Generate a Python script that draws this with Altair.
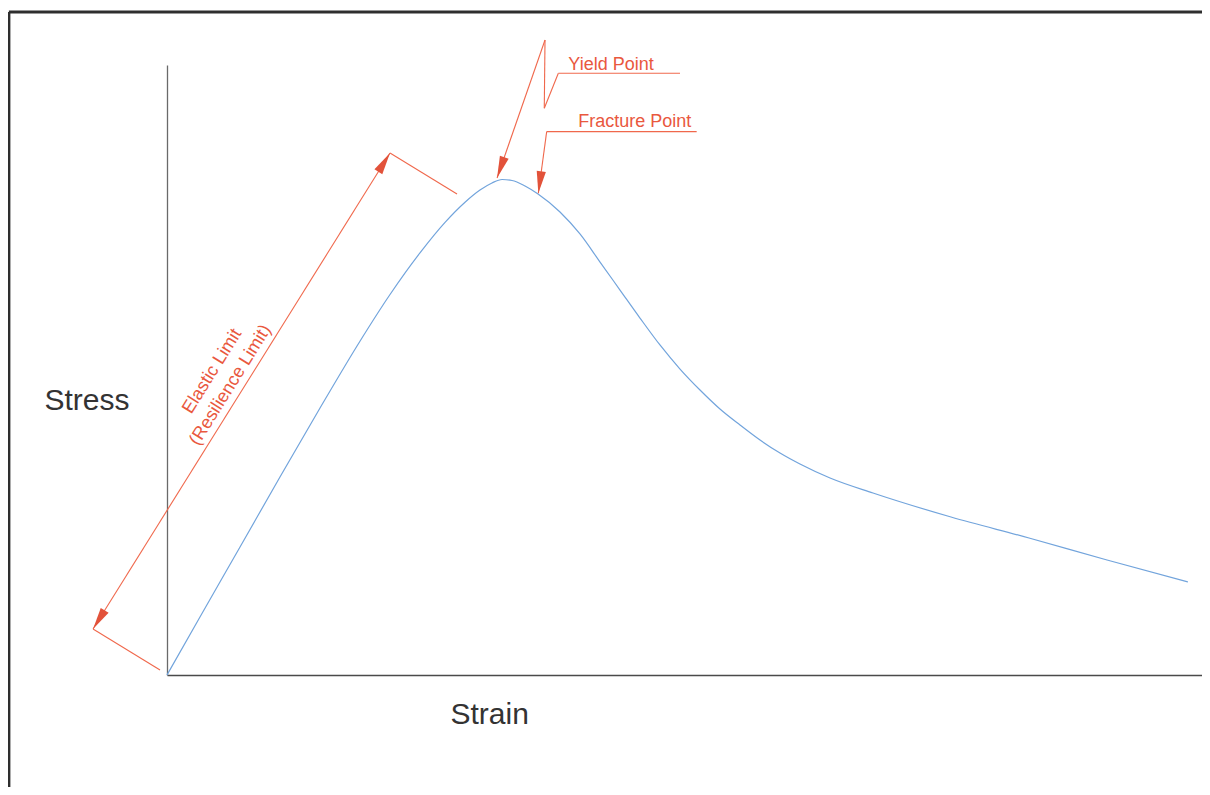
import math
import altair as alt
import pandas as pd

# ---- data (strain / stress in arbitrary diagram units) ----
strain = [0, 3.17, 7.02, 10.86, 14.71, 18.55, 21.44, 24.32, 26.73, 28.65, 30.09,
          31.24, 32.21, 33.17, 34.42, 35.67, 37.78, 39.70, 41.63, 43.55, 45.47,
          47.39, 49.32, 51.24, 53.16, 55.09, 57.01, 58.93, 60.85, 63.74, 67.87,
          75.37, 82.87, 90.37, 98.15]
stress = [0, 9.51, 20.98, 32.46, 43.77, 54.72, 62.38, 69.20, 74.20, 77.50, 79.50,
          80.66, 81.23, 81.07, 80.16, 78.85, 75.90, 72.30, 67.70, 63.11, 58.52,
          54.10, 50.16, 46.72, 43.61, 40.98, 38.52, 36.39, 34.59, 32.30, 29.84,
          25.90, 22.46, 18.85, 15.25]

# annotation segments (start -> end), diagram units
seg_x1 = [-7.11, 21.44, -7.11, 36.34, 36.34, 36.27, 37.62, 36.50, 36.50]
seg_y1 = [7.54, 85.57, 7.54, 104.10, 104.10, 92.90, 98.64, 89.07, 89.07]
seg_x2 = [21.44, 27.88, -0.67, 31.73, 36.27, 37.62, 49.32, 50.92, 35.70]
seg_y2 = [85.57, 78.85, 0.82, 81.48, 92.90, 98.64, 98.64, 89.07, 78.97]

# arrow heads: tip and the point the shaft comes from
tip_x = [21.44, -7.11, 31.73, 35.70]
tip_y = [85.57, 7.54, 81.48, 78.97]
from_x = [-7.11, 21.44, 36.34, 36.50]
from_y = [7.54, 85.57, 104.10, 89.07]

# labels
lead_labels = ["Yield Point", "Fracture Point"]
lead_x = [38.58, 39.54]
lead_y = [99.18, 89.89]
elastic_labels = ["Elastic Limit", "(Resilience Limit)"]
elastic_x = [4.36, 6.12]
elastic_y = [49.77, 47.51]

# frame of the drawing sheet
frame_x1 = [-15.2, -15.2]
frame_y1 = [108.7, 108.7]
frame_x2 = [99.5, -15.2]
frame_y2 = [108.7, -18.4]

# ---- layout ----
W, H = 1035, 610
XD = [0, 99.5]
YD = [0, 100]
sx = W / (XD[1] - XD[0])
sy = H / (YD[1] - YD[0])

RED_LINE = "#f0684c"
RED_HEAD = "#e2523a"
RED_TEXT = "#e9583e"
BLUE = "#72a4dc"
FONT = "Liberation Sans"

xs = alt.Scale(domain=XD, nice=False, zero=False)
ys = alt.Scale(domain=YD, nice=False, zero=False)

xax = alt.Axis(title="Strain", labels=False, ticks=False, grid=False,
               domainColor="#4a4a4a", domainWidth=1.6,
               titleFontSize=30, titleFont=FONT, titleFontWeight="normal",
               titleColor="#333333", titleAlign="left", titleBaseline="alphabetic",
               titleX=283, titleY=48)
yax = alt.Axis(title="Stress", labels=False, ticks=False, grid=False,
               domainColor="#6a6a6a", domainWidth=1.3,
               titleFontSize=30, titleFont=FONT, titleFontWeight="normal",
               titleColor="#333333", titleAngle=0, titleAlign="left",
               titleBaseline="alphabetic", titleX=-123, titleY=344)

X = lambda f: alt.X(f, type="quantitative", scale=xs, axis=xax)
Y = lambda f: alt.Y(f, type="quantitative", scale=ys, axis=yax)

curve_df = pd.DataFrame({"x": strain, "y": stress})
seg_df = pd.DataFrame({"x": seg_x1, "y": seg_y1, "x2": seg_x2, "y2": seg_y2})
frame_df = pd.DataFrame({"x": frame_x1, "y": frame_y1, "x2": frame_x2, "y2": frame_y2})

angles = []
for tx, ty, fx, fy in zip(tip_x, tip_y, from_x, from_y):
    dx = (tx - fx) * sx
    dy = -(ty - fy) * sy
    angles.append(math.degrees(math.atan2(dx, -dy)) % 360)
head_df = pd.DataFrame({"x": tip_x, "y": tip_y, "ang": angles})

lead_df = pd.DataFrame({"x": lead_x, "y": lead_y, "t": lead_labels})
el_df = pd.DataFrame({"x": elastic_x, "y": elastic_y, "t": elastic_labels})
dim_angle = 360 - math.degrees(math.atan2((85.57 - 7.54) * sy, (21.44 + 7.11) * sx))

frame = alt.Chart(frame_df).mark_rule(color="#2e2e2e", strokeWidth=3).encode(
    x=X("x"), y=Y("y"), x2="x2", y2="y2")

curve = alt.Chart(curve_df).mark_line(color=BLUE, strokeWidth=1.2,
                                      interpolate="monotone").encode(
    x=X("x"), y=Y("y"))

segs = alt.Chart(seg_df).mark_rule(color=RED_LINE, strokeWidth=1.1).encode(
    x=X("x"), y=Y("y"), x2="x2", y2="y2")

heads = alt.Chart(head_df).mark_point(
    shape="M0,0L0.42,2L-0.42,2Z", filled=True, size=484, color=RED_HEAD,
    opacity=1, strokeWidth=0).encode(
    x=X("x"), y=Y("y"), angle=alt.Angle("ang:Q", scale=None))

lead_text = alt.Chart(lead_df).mark_text(
    align="left", baseline="alphabetic", fontSize=18, font=FONT,
    color=RED_TEXT).encode(x=X("x"), y=Y("y"), text="t:N")

el_text = alt.Chart(el_df).mark_text(
    align="center", baseline="middle", fontSize=18, font=FONT,
    color=RED_TEXT, angle=dim_angle).encode(x=X("x"), y=Y("y"), text="t:N")

chart = alt.layer(frame, curve, segs, heads, lead_text, el_text).properties(
    width=W, height=H,
    autosize=alt.AutoSizeParams(type="none"),
    padding={"left": 159, "top": 57, "right": 0, "bottom": 112},
    background="white",
).configure_view(strokeWidth=0)

chart.save("out.html", embed_options={"renderer": "svg", "actions": False})
